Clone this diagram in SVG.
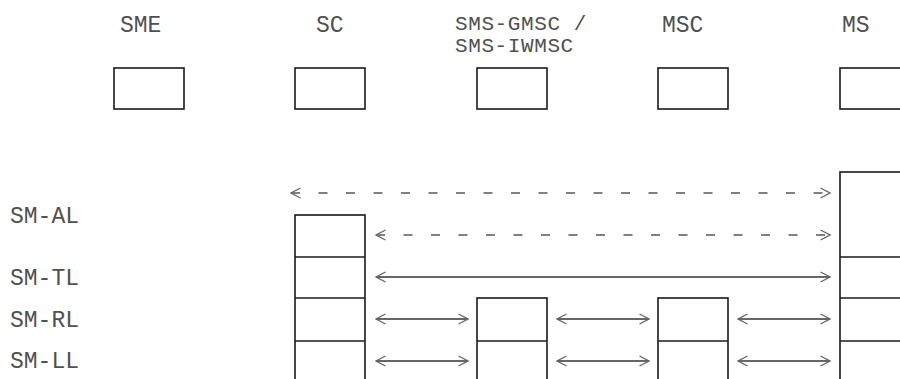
<svg xmlns="http://www.w3.org/2000/svg" width="900" height="379" viewBox="0 0 900 379">
<style>
text{font-family:"Liberation Mono","Courier New",monospace;font-size:23px;fill:#505050}
text.two{font-size:21px;letter-spacing:0.6px}
.box{fill:#fff;stroke:#1a1a1a;stroke-width:1.6}
.div{stroke:#1a1a1a;stroke-width:1.6}
.dash{stroke:#808080;stroke-width:2;stroke-dasharray:9 18.5;fill:none}
.solid{stroke:#333;stroke-width:1.6;fill:none}
</style>
<defs>
<marker id="chev" viewBox="0 0 12 12" refX="10.5" refY="6" markerWidth="12" markerHeight="12" markerUnits="userSpaceOnUse" orient="auto-start-reverse">
<path d="M1,1 L10.5,6 L1,11" fill="none" stroke="#666" stroke-width="1.4"/>
</marker>
</defs>
<rect width="900" height="379" fill="#fff"/>
<g id="layer-labels">
<text x="10" y="223">SM-AL</text>
<text x="10" y="285">SM-TL</text>
<text x="10" y="327">SM-RL</text>
<text x="10" y="368">SM-LL</text>
</g>
<g id="SME">
<text x="120" y="32">SME</text>
<rect class="box" x="114" y="68" width="70" height="41"/>
</g>
<g id="SC">
<text x="316" y="32">SC</text>
<rect class="box" x="295" y="68" width="70" height="41"/>
<rect class="box" x="295" y="215" width="70" height="170"/>
<line class="div" x1="295" y1="257" x2="365" y2="257"/>
<line class="div" x1="295" y1="298" x2="365" y2="298"/>
<line class="div" x1="295" y1="341" x2="365" y2="341"/>
</g>
<g id="SMS-GMSC">
<text class="two" x="455" y="30">SMS-GMSC /</text>
<text class="two" x="455" y="52">SMS-IWMSC</text>
<rect class="box" x="477" y="68" width="70" height="41"/>
<rect class="box" x="477" y="298" width="70" height="90"/>
<line class="div" x1="477" y1="341" x2="547" y2="341"/>
</g>
<g id="MSC">
<text x="662" y="32">MSC</text>
<rect class="box" x="658" y="68" width="70" height="41"/>
<rect class="box" x="658" y="298" width="70" height="90"/>
<line class="div" x1="658" y1="341" x2="728" y2="341"/>
</g>
<g id="MS">
<text x="842" y="32">MS</text>
<rect class="box" x="840" y="68" width="70" height="41"/>
<rect class="box" x="840" y="172" width="70" height="220"/>
<line class="div" x1="840" y1="257" x2="910" y2="257"/>
<line class="div" x1="840" y1="298" x2="910" y2="298"/>
<line class="div" x1="840" y1="341" x2="910" y2="341"/>
</g>
<g id="connectors">
<line class="dash" x1="291" y1="193" x2="830" y2="193" marker-start="url(#chev)" marker-end="url(#chev)"/>
<line class="dash" x1="376" y1="235" x2="830" y2="235" marker-start="url(#chev)" marker-end="url(#chev)"/>
<line class="solid" x1="376" y1="277" x2="830" y2="277" marker-start="url(#chev)" marker-end="url(#chev)"/>
<line class="solid" x1="376" y1="319" x2="468" y2="319" marker-start="url(#chev)" marker-end="url(#chev)"/>
<line class="solid" x1="557" y1="319" x2="649" y2="319" marker-start="url(#chev)" marker-end="url(#chev)"/>
<line class="solid" x1="738" y1="319" x2="830" y2="319" marker-start="url(#chev)" marker-end="url(#chev)"/>
<line class="solid" x1="376" y1="361" x2="468" y2="361" marker-start="url(#chev)" marker-end="url(#chev)"/>
<line class="solid" x1="557" y1="361" x2="649" y2="361" marker-start="url(#chev)" marker-end="url(#chev)"/>
<line class="solid" x1="738" y1="361" x2="830" y2="361" marker-start="url(#chev)" marker-end="url(#chev)"/>
</g>
</svg>
